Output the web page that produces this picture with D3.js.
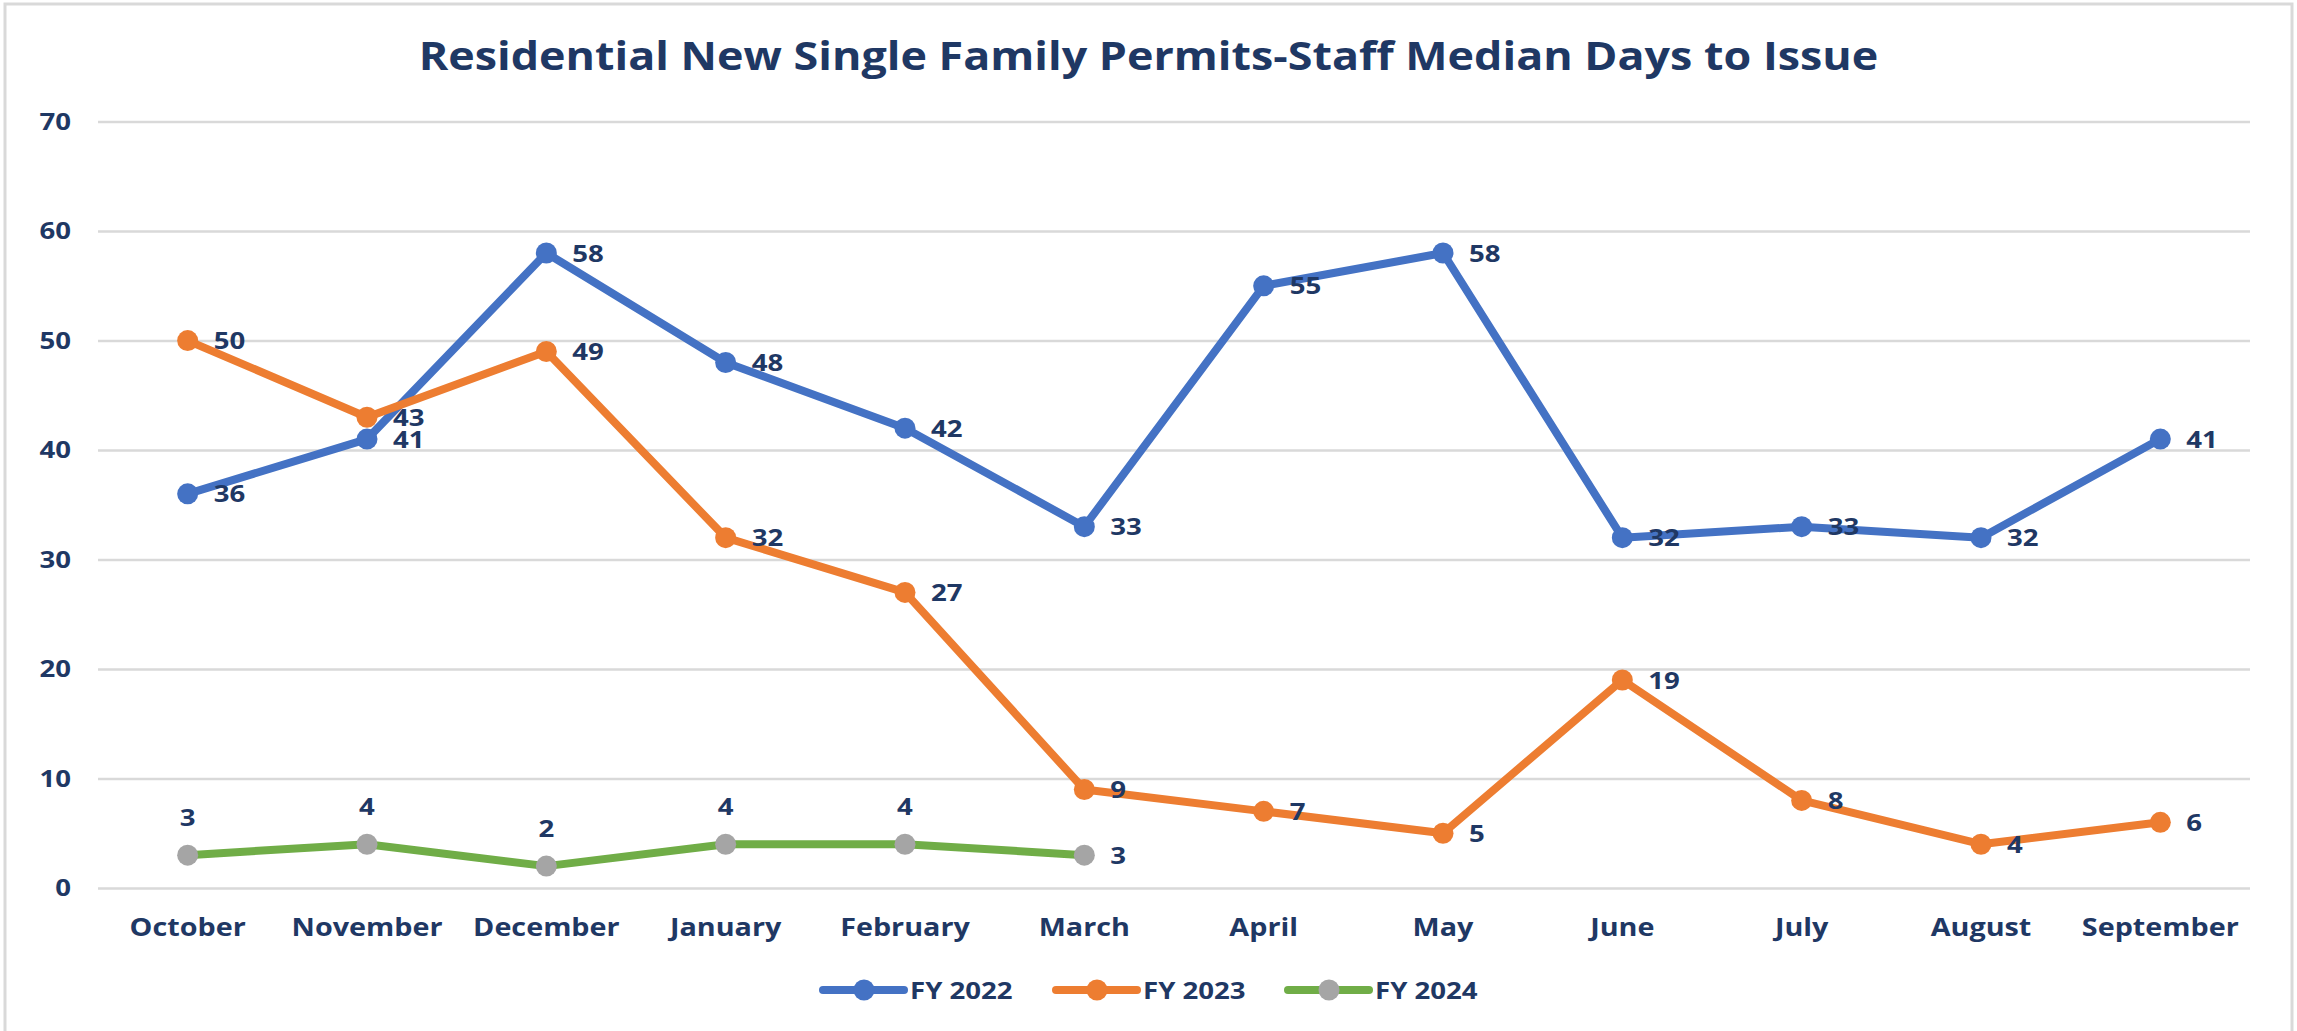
<!DOCTYPE html>
<html>
<head>
<meta charset="utf-8">
<script src="https://cdn.jsdelivr.net/npm/d3@7"></script>
<style>
  body { margin: 0; background: #fff; }
  text { font-family: "Open Sans", sans-serif; font-weight: 700; fill: #1F3864; }
</style>
</head>
<body>
<div id="chart"></div>
<script>
var months = ["October", "November", "December", "January", "February", "March",
              "April", "May", "June", "July", "August", "September"];
var fy2022 = [36, 41, 58, 48, 42, 33, 55, 58, 32, 33, 32, 41];
var fy2023 = [50, 43, 49, 32, 27, 9, 7, 5, 19, 8, 4, 6];
var fy2024 = [3, 4, 2, 4, 4, 3];
var seriesNames = ["FY 2022", "FY 2023", "FY 2024"];
var yTicks = [0, 10, 20, 30, 40, 50, 60, 70];
var title = "Residential New Single Family Permits-Staff Median Days to Issue";

var width = 2297, height = 1031;
var plot = {left: 98, right: 2250, top: 121.6, bottom: 888};
var stretch = 1.15; // the picture is wider than it is tall, so the text is too

var series = [
  {name: seriesNames[0], values: fy2022, line: "#4472C4", marker: "#4472C4", label: "right"},
  {name: seriesNames[1], values: fy2023, line: "#ED7D31", marker: "#ED7D31", label: "right"},
  {name: seriesNames[2], values: fy2024, line: "#70AD47", marker: "#A5A5A5", label: "above"}
];

// widen a text without moving its anchor
function widen(sel) {
  sel.each(function() {
    var t = d3.select(this);
    var x0 = +t.attr("x") || 0;
    t.attr("x", x0 / stretch).attr("transform", "scale(" + stretch + ",1)");
  });
}

var svg = d3.select("#chart").append("svg")
    .attr("width", width)
    .attr("height", height);

svg.append("rect")
    .attr("x", 5).attr("y", 4)
    .attr("width", width - 10).attr("height", height + 20)
    .attr("fill", "#fff")
    .attr("stroke", "#D9D9D9")
    .attr("stroke-width", 3);

svg.append("text")
    .attr("x", width / 2)
    .attr("y", 70)
    .attr("text-anchor", "middle")
    .style("font-size", "39px")
    .text(title)
    .call(widen);

var x = d3.scaleBand()
    .domain(months)
    .range([plot.left, plot.right]);

var y = d3.scaleLinear()
    .domain([0, 70])
    .range([plot.bottom, plot.top]);

function cx(i) { return x(months[i]) + x.bandwidth() / 2; }

// y axis with gridlines
var yAxis = svg.append("g")
    .attr("transform", "translate(" + plot.left + ",0)")
    .call(d3.axisLeft(y).tickValues(yTicks).tickSize(-(plot.right - plot.left)).tickPadding(27));
yAxis.select(".domain").remove();
yAxis.selectAll(".tick line").attr("stroke", "#D9D9D9").attr("stroke-width", 2.5);
yAxis.selectAll(".tick text")
    .attr("fill", "#1F3864")
    .style("font-size", "24px")
    .call(widen);

// x axis
var xAxis = svg.append("g")
    .attr("transform", "translate(0," + plot.bottom + ")")
    .call(d3.axisBottom(x).tickSize(0).tickPadding(30));
xAxis.select(".domain").remove();
xAxis.selectAll(".tick text")
    .attr("fill", "#1F3864")
    .attr("dy", "0.71em")
    .style("font-size", "25px")
    .call(widen);
svg.selectAll(".tick text").attr("font-family", null);

var line = d3.line()
    .x(function(d, i) { return cx(i); })
    .y(function(d) { return y(d); });

series.forEach(function(s) {
  var g = svg.append("g");
  g.append("path")
      .datum(s.values)
      .attr("fill", "none")
      .attr("stroke", s.line)
      .attr("stroke-width", 8)
      .attr("stroke-linejoin", "round")
      .attr("stroke-linecap", "round")
      .attr("d", line);

  g.selectAll("circle")
      .data(s.values)
      .enter().append("circle")
      .attr("cx", function(d, i) { return cx(i); })
      .attr("cy", function(d) { return y(d); })
      .attr("r", 10.5)
      .attr("fill", s.marker);
});

// data labels drawn after all lines so they sit on top
series.forEach(function(s) {
  svg.append("g").selectAll("text")
      .data(s.values)
      .enter().append("text")
      .style("font-size", "24px")
      .attr("dy", "0.36em")
      .attr("text-anchor", function(d, i) {
        return (s.label == "above" && i < s.values.length - 1) ? "middle" : "start";
      })
      .attr("x", function(d, i) {
        return (s.label == "above" && i < s.values.length - 1) ? cx(i) : cx(i) + 26;
      })
      .attr("y", function(d, i) {
        return (s.label == "above" && i < s.values.length - 1) ? y(d) - 38 : y(d);
      })
      .text(function(d) { return d; })
      .call(widen);
});

// legend
var legendX = [823, 1056, 1288];
var legendY = 990;
var legend = svg.append("g")
    .selectAll("g")
    .data(series)
    .enter().append("g")
    .attr("transform", function(d, i) { return "translate(" + legendX[i] + "," + legendY + ")"; });

legend.append("line")
    .attr("x1", 0).attr("x2", 81)
    .attr("stroke", function(d) { return d.line; })
    .attr("stroke-width", 8)
    .attr("stroke-linecap", "round");

legend.append("circle")
    .attr("cx", 41)
    .attr("r", 10.5)
    .attr("fill", function(d) { return d.marker; });

legend.append("text")
    .attr("x", 87)
    .attr("dy", "0.36em")
    .style("font-size", "24px")
    .text(function(d) { return d.name; })
    .call(widen);
</script>
</body>
</html>
